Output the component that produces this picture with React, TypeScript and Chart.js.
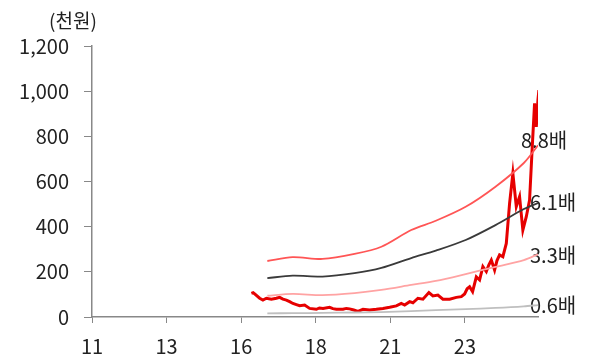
import React, { useEffect, useRef } from "react";
import { Chart, registerables } from "chart.js";

Chart.register(...registerables);

const xTickLabels = ["11", "13", "16", "18", "21", "23"];
const yTickValues = [0, 200, 400, 600, 800, 1000, 1200];

const priceT = [2.137, 2.16, 2.181, 2.248, 2.292, 2.338, 2.405, 2.472, 2.516, 2.56, 2.606, 2.65, 2.694, 2.74, 2.784, 2.851, 2.918, 3.008, 3.05, 3.097, 3.186, 3.23, 3.276, 3.365, 3.41, 3.454, 3.51, 3.566, 3.633, 3.722, 3.812, 3.901, 3.991, 4.08, 4.147, 4.192, 4.259, 4.303, 4.37, 4.437, 4.517, 4.571, 4.638, 4.705, 4.795, 4.885, 4.952, 4.996, 5.03, 5.063, 5.103, 5.153, 5.197, 5.241, 5.287, 5.32, 5.354, 5.398, 5.43, 5.465, 5.509, 5.555, 5.599, 5.643, 5.689, 5.733, 5.777, 5.823, 5.867, 5.903, 5.934, 5.957, 5.979, 5.992];
const priceV = [105, 108, 102, 83, 75, 83, 79, 83, 87, 79, 75, 68, 60, 55, 50, 53, 38, 34, 40, 38, 43, 37, 34, 34, 38, 36, 31, 25, 34, 31, 34, 38, 43, 49, 60, 53, 68, 63, 83, 79, 108, 93, 97, 79, 79, 87, 90, 102, 125, 134, 112, 178, 164, 223, 201, 230, 252, 208, 250, 275, 267, 326, 503, 636, 489, 533, 385, 444, 518, 754, 946, 842, 960, 1005];

const bandT = [2.351, 2.69, 3.09, 3.52, 3.88, 4.28, 4.61, 5.01, 5.41, 5.79, 5.98];
const band88 = [248, 265, 257, 279, 311, 385, 426, 488, 577, 682, 760];
const band61 = [172, 183, 179, 194, 217, 261, 294, 341, 407, 478, 505];
const band33 = [94, 102, 97, 106, 120, 142, 160, 190, 222, 252, 278];
const band06 = [16, 17, 18, 20, 22, 26, 30, 35, 40, 47, 53];

const bandLabels = ["8.8배", "6.1배", "3.3배", "0.6배"];
const bandLabelY = [784, 509, 274, 53];

const FONT = "'Noto Sans CJK KR', 'Noto Sans', sans-serif";

function pts(xs: number[], ys: number[]) {
  return xs.map((x, i) => ({ x, y: ys[i] }));
}

export default function App() {
  const ref = useRef<HTMLCanvasElement | null>(null);

  useEffect(() => {
    document.body.style.margin = "0";
    const labelPlugin = {
      id: "bandLabels",
      beforeDatasetsDraw(chart: any) {
        const { ctx, scales } = chart;
        ctx.save();
        ctx.font = `20px ${FONT}`;
        ctx.fillStyle = "#222";
        ctx.textBaseline = "middle";
        ctx.textAlign = "left";
        bandLabels.forEach((t, i) => {
          const x = scales.x.getPixelForValue(5.98) - (i === 0 ? 17 : 8);
          const y = scales.y.getPixelForValue(bandLabelY[i]);
          ctx.fillText(t, x, y);
        });
        ctx.textAlign = "center";
        ctx.font = `19px ${FONT}`;
        ctx.fillText("(천원)", 73, 21);
        ctx.restore();
      },
    };

    const chart = new Chart(ref.current!, {
      type: "line",
      data: {
        datasets: [
          { data: pts(bandT, band06), borderColor: "#bfbfbf", borderWidth: 1.8, pointRadius: 0, tension: 0.3 },
          { data: pts(bandT, band33), borderColor: "#ffa3a3", borderWidth: 1.8, pointRadius: 0, tension: 0.3 },
          { data: pts(bandT, band61), borderColor: "#3a3a3a", borderWidth: 1.8, pointRadius: 0, tension: 0.3 },
          { data: pts(bandT, band88), borderColor: "#ff5555", borderWidth: 1.8, pointRadius: 0, tension: 0.3 },
          { data: pts(priceT, priceV), borderColor: "#e60000", borderWidth: 3, pointRadius: 0, tension: 0 },
        ],
      },
      plugins: [labelPlugin],
      options: {
        animation: false,
        responsive: false,
        maintainAspectRatio: false,
        layout: { padding: { top: 46, right: 58, left: 0, bottom: 0 } },
        plugins: { legend: { display: false }, tooltip: { enabled: false } },
        scales: {
          x: {
            type: "linear",
            min: 0,
            max: 5.98,
            afterBuildTicks: (scale: any) => {
              scale.ticks = xTickLabels.map((_, i) => ({ value: i }));
            },
            afterFit: (scale: any) => {
              scale.height = 44;
            },
            ticks: {
              callback: (v: any) => xTickLabels[v] ?? "",
              font: { family: FONT, size: 20 },
              color: "#222",
              padding: 11,
              maxRotation: 0,
              autoSkip: false,
            },
            grid: { drawOnChartArea: false, drawTicks: true, tickLength: 6, color: "#888" },
            border: { color: "#888", width: 1.5 },
          },
          y: {
            type: "linear",
            min: 0,
            max: 1200,
            afterBuildTicks: (scale: any) => {
              scale.ticks = yTickValues.map((v) => ({ value: v }));
            },
            afterFit: (scale: any) => {
              scale.width = 92;
            },
            ticks: {
              callback: (v: any) => Number(v).toLocaleString("en-US"),
              font: { family: FONT, size: 20 },
              color: "#222",
              padding: 15,
            },
            grid: { drawOnChartArea: false, drawTicks: true, tickLength: 8, color: "#888" },
            border: { color: "#888", width: 1.5 },
          },
        },
      },
    } as any);
    return () => chart.destroy();
  }, []);

  return (
    <div style={{ width: 596, height: 361 }}>
      <canvas ref={ref} width={596} height={361} style={{ display: "block" }} />
    </div>
  );
}
